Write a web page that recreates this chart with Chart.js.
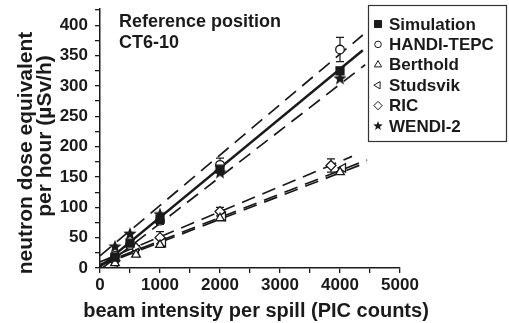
<!DOCTYPE html>
<html lang="en">
<head>
<meta charset="UTF-8">
<title>Neutron dose vs beam intensity</title>
<style>
    body { margin: 0; padding: 0; background: white; }
    #wrap { width: 509px; height: 323px; }
</style>
<script src="https://cdn.jsdelivr.net/npm/chart.js"></script>
</head>
<body>
<div id="wrap"><canvas id="doseChart" width="509" height="323"></canvas></div>
<script>
// values (x = PIC counts per spill, y = µSv/h)
const simX = [250, 500, 1000, 2000, 4000];
const simY = [18, 41, 80, 163, 325];
const handiX = [250, 500, 1000, 2000, 4000];
const handiY = [20, 38, 78, 170, 360];
const handiErr = [3, 5, 6, 11, 20];
const bertholdX = [250, 600, 1000, 2000, 4000];
const bertholdY = [8, 22, 38, 82, 158];
const studsvikX = [250, 600, 1050, 2050, 4050];
const studsvikY = [10, 25, 42, 85, 165];
const ricX = [250, 600, 1000, 2000, 3850];
const ricY = [12, 33, 50, 93, 169];
const ricErr = [2, 4, 10, 7, 11];
const wendiX = [250, 500, 1000, 2000, 4000];
const wendiY = [35, 56, 88, 157, 312];

// fitted lines, start and end points
const fitX = [0, 4380], fitY = [2, 359];
const bandUpX = [0, 4380], bandUpY = [20, 384];
const bandLoX = [0, 4420], bandLoY = [-3, 335];
const ricFitX = [0, 4200], ricFitY = [10, 184];
const berFitX = [0, 4450], berFitY = [4, 174];
const stuFitX = [0, 4450], stuFitY = [6, 178];

const seriesNames = ['Simulation', 'HANDI-TEPC', 'Berthold', 'Studsvik', 'RIC', 'WENDI-2'];

const ink = '#1a1a1a';
const pts = (xs, ys) => xs.map((x, i) => ({ x: x, y: ys[i] }));

function makeStar(size) {
    const c = document.createElement('canvas');
    c.width = size; c.height = size;
    const g = c.getContext('2d');
    const R = size / 2, r = R * 0.42;
    g.beginPath();
    for (let i = 0; i < 10; i++) {
        const a = -Math.PI / 2 + i * Math.PI / 5;
        const rad = i % 2 === 0 ? R : r;
        g.lineTo(R + rad * Math.cos(a), R + rad * Math.sin(a));
    }
    g.closePath();
    g.fillStyle = ink;
    g.fill();
    return c;
}
const starBig = makeStar(14);
const starSmall = makeStar(10);

function pointSet(label, xs, ys, style, radius, extra) {
    return Object.assign({
        label: label,
        data: pts(xs, ys),
        pointStyle: style,
        pointRadius: radius,
        backgroundColor: 'white',
        borderColor: ink,
        pointBorderWidth: 1.3,
        showLine: false
    }, extra || {});
}

function lineSet(xs, ys, width, dash) {
    return {
        data: pts(xs, ys),
        showLine: true,
        pointRadius: 0,
        borderColor: ink,
        borderWidth: width,
        borderDash: dash,
        fill: false
    };
}

const errorBars = {
    id: 'errorBars',
    beforeDatasetsDraw(chart) {
        const { ctx, scales: { x, y } } = chart;
        ctx.save();
        ctx.strokeStyle = ink;
        ctx.lineWidth = 1.2;
        chart.data.datasets.forEach(ds => {
            if (!ds.errors) return;
            ds.data.forEach((p, i) => {
                const e = ds.errors[i];
                if (!e) return;
                const px = x.getPixelForValue(p.x);
                const t = y.getPixelForValue(p.y + e);
                const b = y.getPixelForValue(p.y - e);
                ctx.beginPath();
                ctx.moveTo(px, t); ctx.lineTo(px, b);
                ctx.moveTo(px - 4, t); ctx.lineTo(px + 4, t);
                ctx.moveTo(px - 4, b); ctx.lineTo(px + 4, b);
                ctx.stroke();
            });
        });
        ctx.restore();
    }
};

const legendMarks = [
    { pointStyle: 'rect', radius: 5, fill: ink },
    { pointStyle: 'circle', radius: 3.3, fill: 'white' },
    { pointStyle: 'triangle', radius: 4.2, fill: 'white' },
    { pointStyle: 'triangle', radius: 4.2, fill: 'white', rotation: -90 },
    { pointStyle: 'rectRot', radius: 4.2, fill: 'white' },
    { pointStyle: starSmall, radius: 5, fill: ink }
];

const labels = {
    id: 'labels',
    afterDraw(chart) {
        const ctx = chart.ctx;
        ctx.save();
        ctx.fillStyle = ink;
        ctx.textBaseline = 'alphabetic';

        // panel title
        ctx.font = 'bold 18px "Liberation Sans", Arial, sans-serif';
        ctx.textAlign = 'left';
        ctx.fillText('Reference position', 119, 27);
        ctx.fillText('CT6-10', 119, 48);

        // x axis title
        ctx.font = 'bold 20px "Liberation Sans", Arial, sans-serif';
        ctx.textAlign = 'center';
        ctx.textBaseline = 'middle';
        ctx.fillText('beam intensity per spill (PIC counts)', 256, 311);

        // y axis title
        ctx.save();
        ctx.translate(26, 153);
        ctx.rotate(-Math.PI / 2);
        ctx.font = 'bold 21px "Liberation Sans", Arial, sans-serif';
        ctx.fillText('neutron dose equivalent', 0, 0);
        ctx.fillText('per hour (µSv/h)', 17, 19);
        ctx.restore();

        // legend box
        ctx.strokeStyle = '#333';
        ctx.lineWidth = 1.2;
        ctx.strokeRect(368.5, 5.5, 138, 136);
        ctx.font = 'bold 17px "Liberation Sans", Arial, sans-serif';
        ctx.textAlign = 'left';
        seriesNames.forEach((name, i) => {
            const yy = 24 + i * 20.4;
            const m = legendMarks[i];
            ctx.fillStyle = m.fill;
            ctx.strokeStyle = ink;
            ctx.lineWidth = 1;
            Chart.helpers.drawPoint(ctx, {
                pointStyle: m.pointStyle, radius: m.radius,
                rotation: m.rotation || 0, borderWidth: 1
            }, 378, yy);
            ctx.fillStyle = ink;
            ctx.fillText(name, 389, yy + 1);
        });
        ctx.restore();
    }
};

const tickFont = { family: '"Liberation Sans", Arial, sans-serif', size: 17, weight: 'bold' };

new Chart(document.getElementById('doseChart'), {
    type: 'scatter',
    data: {
        datasets: [
            pointSet('Simulation', simX, simY, 'rect', 5.6, { backgroundColor: ink }),
            pointSet('HANDI-TEPC', handiX, handiY, 'circle', 4.3, { errors: handiErr }),
            pointSet('Berthold', bertholdX, bertholdY, 'triangle', 5),
            pointSet('Studsvik', studsvikX, studsvikY, 'triangle', 5, { rotation: -90 }),
            pointSet('RIC', ricX, ricY, 'rectRot', 5, { errors: ricErr }),
            pointSet('WENDI-2', wendiX, wendiY, starBig, 7),
            lineSet(fitX, fitY, 2.5, []),
            lineSet(bandUpX, bandUpY, 1.7, [14, 8]),
            lineSet(bandLoX, bandLoY, 1.7, [14, 8]),
            lineSet(ricFitX, ricFitY, 1.7, [14, 8]),
            lineSet(berFitX, berFitY, 1.7, [14, 8]),
            lineSet(stuFitX, stuFitY, 1.7, [14, 8])
        ]
    },
    plugins: [errorBars, labels],
    options: {
        responsive: false,
        animation: false,
        layout: { padding: { left: 0, right: 109, top: 5, bottom: 0 } },
        plugins: {
            legend: { display: false },
            tooltip: { enabled: false }
        },
        scales: {
            x: {
                type: 'linear',
                min: 0,
                max: 5000,
                ticks: {
                    stepSize: 500,
                    autoSkip: false,
                    maxRotation: 0,
                    padding: 2,
                    color: ink,
                    font: tickFont,
                    callback: v => (v % 1000 === 0 ? v : '')
                },
                grid: { drawOnChartArea: false, tickLength: 5, color: ink, lineWidth: 1.3 },
                border: { color: ink, width: 1.5 },
                afterFit: s => { s.height = 55; s.paddingLeft = 0; s.paddingRight = 0; }
            },
            y: {
                type: 'linear',
                min: 0,
                max: 428,
                ticks: {
                    stepSize: 25,
                    includeBounds: false,
                    autoSkip: false,
                    padding: 7,
                    color: ink,
                    font: tickFont,
                    callback: v => (v % 50 === 0 ? v : '')
                },
                grid: { drawOnChartArea: false, tickLength: 5, color: ink, lineWidth: 1.3 },
                border: { color: ink, width: 1.5 },
                afterFit: s => { s.width = 100; s.paddingTop = 0; s.paddingBottom = 0; }
            }
        }
    }
});
</script>
</body>
</html>
